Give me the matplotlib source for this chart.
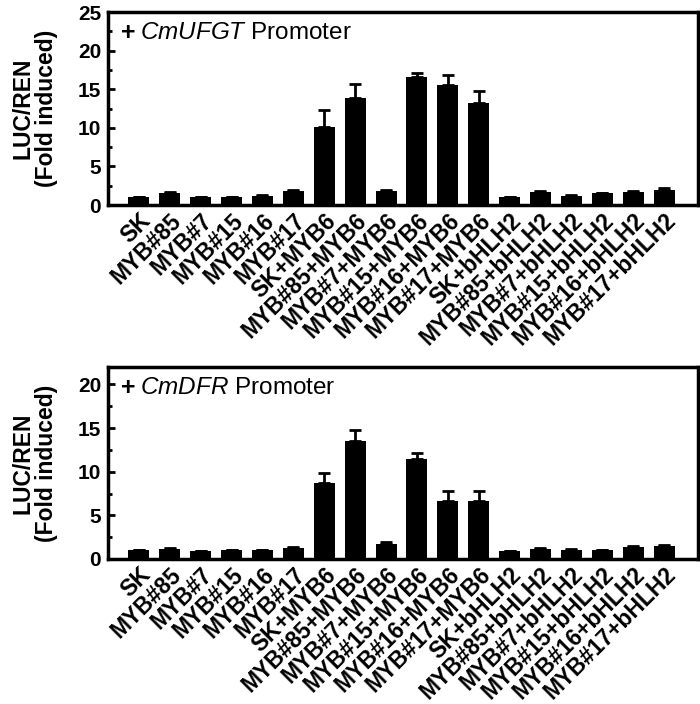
import matplotlib
matplotlib.use("Agg")
import matplotlib.pyplot as plt
from matplotlib.ticker import MultipleLocator

categories = ["SK", "MYB#85", "MYB#7", "MYB#15", "MYB#16", "MYB#17",
              "SK+MYB6", "MYB#85+MYB6", "MYB#7+MYB6", "MYB#15+MYB6", "MYB#16+MYB6", "MYB#17+MYB6",
              "SK+bHLH2", "MYB#85+bHLH2", "MYB#7+bHLH2", "MYB#15+bHLH2", "MYB#16+bHLH2", "MYB#17+bHLH2"]

ufgt_values = [1.0, 1.6, 1.0, 1.0, 1.2, 1.8, 10.1, 13.9, 1.8, 16.6, 15.6, 13.2,
               1.0, 1.7, 1.2, 1.5, 1.7, 1.9]
ufgt_err = [0.05, 0.1, 0.05, 0.08, 0.05, 0.15, 2.2, 1.8, 0.15, 0.5, 1.3, 1.6,
            0.05, 0.1, 0.08, 0.08, 0.1, 0.3]

dfr_values = [1.0, 1.2, 0.9, 1.0, 1.0, 1.3, 8.7, 13.5, 1.7, 11.5, 6.6, 6.65,
              0.9, 1.2, 1.05, 0.98, 1.4, 1.45]
dfr_err = [0.05, 0.08, 0.05, 0.08, 0.05, 0.12, 1.1, 1.3, 0.2, 0.7, 1.2, 1.1,
           0.03, 0.08, 0.05, 0.08, 0.1, 0.1]

fam = "Liberation Sans"
plt.rcParams['font.family'] = [fam, 'DejaVu Sans']
plt.rcParams['mathtext.fontset'] = 'custom'
plt.rcParams['mathtext.it'] = fam + ':italic'
plt.rcParams['mathtext.rm'] = fam

W, H = 700, 704
fig = plt.figure(figsize=(W/100, H/100), dpi=100)

def make_panel(rect, values, err, ymax, major_ticks, gene):
    l, t, r, b = rect
    ax = fig.add_axes([l/W, 1 - b/H, (r - l)/W, (b - t)/H])
    x = list(range(1, len(values) + 1))
    ax.bar(x, values, width=0.68, color='black', zorder=2)
    ax.errorbar(x, values, yerr=[[0]*len(err), err], fmt='none', ecolor='black',
                elinewidth=2, capsize=4, capthick=2, zorder=3)
    ax.set_xlim(0, 19.1)
    ax.set_ylim(0, ymax)
    ax.set_yticks(major_ticks)
    ax.yaxis.set_minor_locator(MultipleLocator(2.5))
    ax.tick_params(axis='y', which='major', direction='in', length=5, width=2,
                   labelsize=15, pad=5)
    ax.tick_params(axis='y', which='minor', direction='in', length=3, width=2)
    for lab in ax.get_yticklabels():
        lab.set_fontweight('bold')
    ax.set_xticks(x)
    ax.set_xticklabels(categories, rotation=45, ha='right', rotation_mode='anchor',
                       fontsize=16.5, fontweight='bold')
    ax.tick_params(axis='x', length=0, pad=3)
    for s in ax.spines.values():
        s.set_linewidth(2.5)
    ax.set_ylabel("LUC/REN\n(Fold induced)", fontsize=16.5, fontweight='bold',
                  labelpad=14, linespacing=1.05)
    ax.text(0.022, 0.89, "+", transform=ax.transAxes, fontsize=18, fontweight='bold',
            va='center', ha='left')
    ax.text(0.054, 0.89, r"$\it{" + gene + "}$" + " Promoter", transform=ax.transAxes,
            fontsize=17.5, va='center', ha='left')
    return ax

make_panel((108, 12, 698, 205), ufgt_values, ufgt_err, 25, [0, 5, 10, 15, 20, 25], "CmUFGT")
make_panel((108, 367, 698, 559), dfr_values, dfr_err, 22, [0, 5, 10, 15, 20], "CmDFR")

fig.savefig("out.png", dpi=100)
